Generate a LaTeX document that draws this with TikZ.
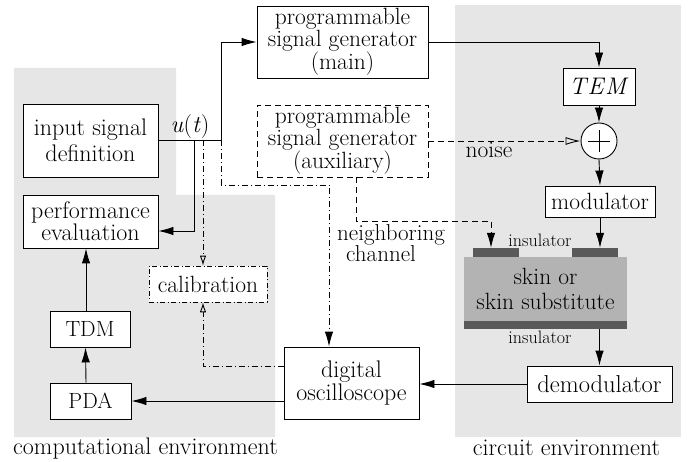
\documentclass[tikz,border=0pt]{standalone}
\usetikzlibrary{arrows.meta,calc}
\definecolor{envgray}{HTML}{E6E6E6}
\definecolor{skingray}{HTML}{B3B3B3}
\definecolor{insgray}{HTML}{595959}
\begin{document}
\begin{tikzpicture}[x=1pt,y=-1pt,
  box/.style={draw,line width=0.9pt,fill=white,align=center,inner sep=0pt,
    font=\fontsize{24}{21}\selectfont},
  dbox/.style={box,dash pattern=on 6pt off 4pt},
  ddbox/.style={box,dash pattern=on 5pt off 2.5pt on 1pt off 2.5pt,line width=0.7pt},
  wire/.style={line width=0.9pt},
  arr/.style={wire,-{Latex[length=15pt,width=8.5pt]}},
  oarr/.style={wire,-{Latex[open,length=15pt,width=8pt]}},
  soarr/.style={wire,-{Latex[open,length=10pt,width=6.5pt]}},
  dashdot/.style={dash pattern=on 6pt off 3pt on 1pt off 3pt},
  dsh/.style={dash pattern=on 6pt off 4pt},
  lbl/.style={align=center,inner sep=0pt,font=\fontsize{24}{17}\selectfont},
  small/.style={inner sep=0pt,font=\fontsize{18}{18}\selectfont},
  gen/.style={font=\fontsize{23.5}{20.5}\selectfont},
]
\useasboundingbox (0,0) rectangle (696,462);

% environments
\fill[envgray] (14,68) -- (176,68) -- (176,195) -- (275,195) -- (275,437) -- (14,437) -- cycle;
\fill[envgray] (455,5) rectangle (681,437);
\node[lbl] (compenv) at (145.5,449) {computational environment};
\node[lbl] (circenv) at (566.5,448) {circuit environment};

% computational side
\node[box,minimum width=135pt,minimum height=73pt,font=\fontsize{24}{25.5}\selectfont] (isd) at (90.5,140.5) {input signal\\definition};
\node[box,minimum width=135pt,minimum height=53pt,font=\fontsize{24}{20}\selectfont] (pe) at (90.5,221.5) {performance\\evaluation};
\node[box,minimum width=80pt,minimum height=36pt,font=\fontsize{22}{22}\selectfont] (tdm) at (90,329) {TDM};
\node[box,minimum width=81pt,minimum height=36pt,font=\fontsize{22}{22}\selectfont] (pda) at (90.5,401) {PDA};
\node[ddbox,minimum width=118pt,minimum height=36pt,font=\fontsize{23.5}{22}\selectfont] (cal) at (208,284) {calibration};
\node[box,minimum width=135pt,minimum height=72pt] (osc) at (351.5,383) {digital\\oscilloscope};

% signal generators
\node[box,gen,minimum width=171pt,minimum height=72pt] (psgm) at (342.5,42) {programmable\\signal generator\\(main)};
\node[dbox,gen,minimum width=171pt,minimum height=72pt] (aux) at (342.5,141) {programmable\\signal generator\\(auxiliary)};

% circuit side
\node[box,minimum width=72pt,minimum height=37pt] (tem) at (599,86.5) {\textit{T\kern1.5pt E\kern1.5pt M}};
\node[draw,circle,line width=0.9pt,fill=white,minimum size=36pt,inner sep=0pt,
  path picture={\draw[line width=0.9pt] ($(path picture bounding box.center)+(-11pt,0)$) -- ($(path picture bounding box.center)+(11pt,0)$)
    ($(path picture bounding box.center)+(0,-11pt)$) -- ($(path picture bounding box.center)+(0,11pt)$);}] (sum) at (599,141) {};
\node[box,minimum width=110pt,minimum height=31pt,font=\fontsize{23.5}{22}\selectfont] (mod) at (600,201.5) {modulator};
\node[box,minimum width=145pt,minimum height=36pt,font=\fontsize{24.5}{22}\selectfont] (demod) at (599.5,384) {demodulator};

% skin sample with electrodes
\node[fill=skingray,minimum width=163pt,minimum height=64pt,inner sep=0pt,align=center,
  font=\fontsize{23.5}{25}\selectfont] (skin) at (545.5,289) {skin or\\skin substitute};
\node[fill=insgray,minimum width=163pt,minimum height=8pt,inner sep=0pt] (botins) at (545.5,325) {};
\node[fill=insgray,minimum width=46pt,minimum height=9pt,inner sep=0pt] (elL) at (496,252.5) {};
\node[fill=insgray,minimum width=46pt,minimum height=9pt,inner sep=0pt] (elR) at (595,252.5) {};
\node[small] (instop) at (540,240) {insulator};
\node[small] (insbot) at (540,337) {insulator};

% labels
\node[lbl] (ut) at (190,127) {\textit{u}(\textit{t})};
\node[lbl,font=\fontsize{23.5}{17}\selectfont] (noise) at (489,150) {noise};
\node[lbl,align=left,anchor=west,font=\fontsize{23}{19}\selectfont] (nbch) at (337,243) {neighboring\\\hspace*{9pt}channel};

% junctions
\coordinate (jperf) at (194,140.5);
\coordinate (jcal) at (203,140.5);
\coordinate (jmain) at (221,140.5);
\coordinate (jmon) at (221,185);
\coordinate (jnb) at (356,221);

% main signal path
\draw[arr] (isd.east) -- (jmain) |- (psgm.west);
\draw[arr] (jperf) |- ([yshift=-9.5pt]pe.east);
\draw[arr] (psgm.east) -| (tem.north);
\draw[arr] (tem.south) -- (sum.north);
\draw[arr] (sum.south) -- (mod.north);
\draw[arr] (mod.south) -- (mod.south |- elR.north);
\draw[arr] (demod.north |- botins.south) -- (demod.north);
\draw[arr] (demod.west) -- (demod.west -| osc.east);
\draw[arr] (osc.west |- pda.east) -- (pda.east);
\draw[arr] ([xshift=-4.5pt]pda.north) -- ([xshift=-4.5pt]tdm.south);
\draw[arr] ([xshift=-4pt]tdm.north) -- ([xshift=-4.5pt]pe.south);

% auxiliary generator
\draw[oarr,dsh] (aux.east) -- (sum.west);
\draw[arr,dsh] ([xshift=13.5pt]aux.south) -- (jnb) -| ([xshift=-5pt]elL.north);

% monitoring and calibration
\draw[arr,dashdot] (jmain) -- (jmon) -| ([xshift=-22.5pt]osc.north);
\draw[soarr,dashdot] (jcal) -- (jcal |- cal.north);
\draw[soarr,dashdot] ([yshift=17pt]osc.west) -| (jcal |- cal.south);
\end{tikzpicture}
\end{document}
